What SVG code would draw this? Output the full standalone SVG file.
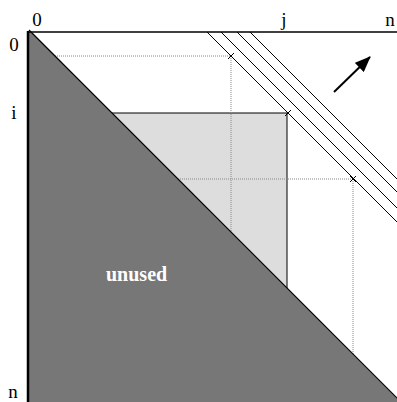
<svg xmlns="http://www.w3.org/2000/svg" width="397" height="402" viewBox="0 0 397 402">
<style>
.lbl{font-family:"Liberation Serif",serif;font-size:19px;fill:#000;text-anchor:middle}
.dot{stroke:#888;stroke-width:1;stroke-dasharray:1,1;fill:none}
.ln{stroke:#000;stroke-width:1;fill:none}
.x{stroke:#000;stroke-width:1}
</style>
<defs>
<marker id="ah" markerWidth="16" markerHeight="13" refX="15" refY="6.5" orient="auto" markerUnits="userSpaceOnUse" viewBox="0 0 16 13">
<path d="M0,0 L16,6.5 L0,13 z" fill="#000"/>
</marker>
</defs>
<rect width="397" height="402" fill="#fff"/>
<g id="unused-region">
<polygon points="28,32 31,32 401,402 28,402" fill="#777"/>
<text x="106" y="281" style="font-family:'Liberation Serif',serif;font-size:20px;font-weight:bold;fill:#fff">unused</text>
</g>
<g id="subproblem">
<polygon points="112,113 287,113 287,288" fill="#ddd"/>
<polyline points="112,113 287,113 287,288" class="ln"/>
</g>
<g id="connectors">
<line x1="55" y1="56" x2="231" y2="56" class="dot"/>
<line x1="231" y1="56" x2="231" y2="232" class="dot"/>
<line x1="178" y1="179" x2="353" y2="179" class="dot"/>
<line x1="353" y1="179" x2="353" y2="354" class="dot"/>
<line x1="207" y1="32" x2="397" y2="222" class="ln"/>
<line x1="221" y1="32" x2="397" y2="208" class="ln"/>
<line x1="237" y1="32" x2="397" y2="192" class="ln"/>
<line x1="250" y1="32" x2="397" y2="179" class="ln"/>
<path d="M228,53 L234,59 M234,53 L228,59" class="x"/>
<path d="M285,110 L291,116 M291,110 L285,116" class="x"/>
<path d="M350,176 L356,182 M356,176 L350,182" class="x"/>
<line x1="334" y1="92" x2="370" y2="57" stroke="#000" stroke-width="2" marker-end="url(#ah)"/>
</g>
<g id="axes">
<line x1="28" y1="32" x2="397" y2="32" stroke="#000" stroke-width="1.5"/>
<line x1="28" y1="31" x2="28" y2="402" stroke="#000" stroke-width="2.5"/>
<line x1="29" y1="30" x2="401" y2="402" stroke="#000" stroke-width="1.2"/>
</g>
<g id="labels">
<text x="37" y="26" class="lbl">0</text>
<text x="284" y="26" class="lbl">j</text>
<text x="390" y="26" class="lbl">n</text>
<text x="14" y="51" class="lbl">0</text>
<text x="14" y="119" class="lbl">i</text>
<text x="13" y="398" class="lbl">n</text>
</g>
</svg>
